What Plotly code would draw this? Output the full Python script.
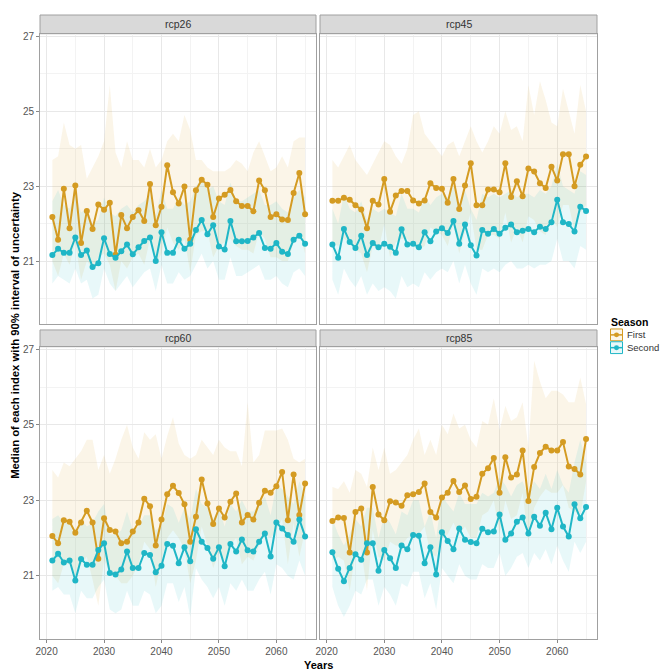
import plotly.graph_objects as go

# ---------------- data ----------------
years = list(range(2021, 2066))
scenarios = ["rcp26", "rcp45", "rcp60", "rcp85"]
seasons = ["First", "Second"]
x_tick_vals = [2020, 2030, 2040, 2050, 2060]
y_tick_vals = [21, 23, 25, 27]

rcp26_first = [22.18, 21.57, 22.93, 21.88, 23.02, 21.48, 22.34, 21.86, 22.51, 22.37, 22.56, 21.17, 22.23, 21.88, 22.18, 22.36, 22.07, 23.06, 21.96, 22.45, 23.56, 22.84, 22.54, 22.99, 21.57, 22.89, 23.17, 23.04, 22.18, 22.67, 22.77, 22.90, 22.60, 22.47, 22.47, 22.33, 23.15, 22.89, 22.18, 22.25, 22.11, 22.10, 22.82, 23.35, 22.25]
rcp26_first_lo = [21.0, 20.6, 21.2, 20.9, 21.5, 20.5, 21.0, 20.8, 21.1, 21.2, 20.9, 20.2, 21.0, 20.8, 21.1, 21.2, 20.9, 21.6, 20.9, 21.2, 21.9, 21.5, 21.3, 21.6, 20.7, 21.7, 21.8, 21.8, 21.1, 21.4, 21.5, 21.6, 21.4, 21.3, 21.3, 21.2, 21.8, 21.6, 21.1, 21.1, 21.0, 21.0, 21.5, 21.8, 21.2]
rcp26_first_hi = [23.7, 23.8, 24.7, 24.1, 24.0, 24.1, 23.2, 23.5, 23.8, 24.2, 25.7, 23.9, 23.5, 24.2, 23.7, 23.7, 23.5, 24.0, 23.5, 23.7, 24.2, 24.4, 24.2, 24.9, 24.5, 23.7, 23.7, 23.5, 23.4, 23.4, 23.4, 23.5, 23.7, 23.6, 23.4, 23.9, 24.2, 23.8, 23.4, 23.5, 23.8, 23.5, 24.2, 24.3, 24.3]
rcp26_second = [21.16, 21.33, 21.22, 21.22, 21.63, 21.16, 21.28, 20.84, 20.94, 21.61, 21.19, 21.09, 21.26, 21.44, 21.18, 21.37, 21.54, 21.63, 21.00, 21.77, 21.22, 21.22, 21.57, 21.33, 21.46, 21.83, 22.10, 21.72, 21.96, 21.39, 21.31, 22.07, 21.53, 21.53, 21.54, 21.63, 21.75, 21.35, 21.33, 21.48, 21.25, 21.19, 21.57, 21.68, 21.46]
rcp26_second_lo = [20.4, 20.6, 20.5, 20.4, 20.8, 20.4, 20.5, 20.0, 20.1, 20.8, 20.4, 20.2, 20.4, 20.6, 20.3, 20.5, 20.7, 20.8, 20.2, 20.9, 20.4, 20.4, 20.7, 20.5, 20.6, 20.9, 21.2, 20.8, 21.0, 20.5, 20.5, 21.1, 20.6, 20.6, 20.7, 20.8, 20.9, 20.5, 20.5, 20.6, 20.4, 20.3, 20.7, 20.8, 20.6]
rcp26_second_hi = [22.6, 22.9, 22.5, 22.4, 22.8, 22.3, 22.4, 22.0, 22.1, 22.7, 22.3, 22.2, 22.4, 22.5, 22.3, 22.5, 22.6, 22.8, 22.2, 22.9, 22.4, 22.4, 22.7, 22.5, 22.6, 23.0, 23.2, 22.9, 23.0, 22.6, 22.5, 23.1, 22.6, 22.6, 22.7, 22.8, 22.9, 22.5, 22.5, 22.6, 22.4, 22.3, 22.7, 22.9, 22.7]

rcp45_first = [22.61, 22.61, 22.69, 22.64, 22.49, 22.38, 21.88, 22.61, 22.51, 23.19, 22.32, 22.75, 22.87, 22.87, 22.62, 22.54, 22.62, 23.08, 22.95, 22.93, 22.56, 23.19, 22.39, 23.02, 23.61, 22.49, 22.49, 22.91, 22.91, 22.84, 23.61, 22.71, 23.13, 22.73, 23.47, 23.39, 23.08, 22.95, 23.52, 23.15, 23.85, 23.85, 23.00, 23.57, 23.79]
rcp45_first_lo = [21.5, 21.4, 21.6, 21.5, 21.3, 21.2, 20.7, 21.4, 21.3, 22.0, 21.1, 21.5, 21.6, 21.6, 21.4, 21.3, 21.4, 21.9, 21.8, 21.7, 21.4, 22.0, 21.2, 21.8, 22.3, 21.3, 21.3, 21.7, 21.7, 21.6, 22.3, 21.5, 21.9, 21.5, 22.2, 22.1, 21.8, 21.7, 22.2, 21.9, 22.5, 22.5, 21.8, 22.3, 22.5]
rcp45_first_hi = [23.7, 23.5, 23.8, 24.1, 23.7, 23.5, 23.3, 23.6, 23.9, 24.2, 24.1, 23.8, 23.6, 24.0, 24.9, 25.0, 24.4, 24.2, 24.0, 23.8, 24.1, 24.2, 23.8, 24.2, 24.6, 24.2, 23.9, 24.2, 24.6, 24.4, 25.0, 24.5, 24.6, 24.2, 25.7, 24.9, 25.8, 25.3, 24.7, 24.6, 25.6, 25.0, 24.4, 25.7, 25.0]
rcp45_second = [21.44, 21.09, 21.86, 21.51, 21.35, 21.68, 21.16, 21.48, 21.37, 21.46, 21.38, 21.22, 21.85, 21.44, 21.46, 21.37, 21.77, 21.53, 21.79, 21.88, 21.75, 22.07, 21.46, 21.98, 21.42, 21.15, 21.83, 21.73, 21.86, 21.73, 21.89, 21.98, 21.77, 21.81, 21.86, 21.77, 21.92, 21.86, 22.04, 22.64, 22.04, 21.99, 21.79, 22.45, 22.34]
rcp45_second_lo = [20.5, 20.1, 20.8, 20.5, 20.3, 20.6, 20.1, 20.4, 20.2, 20.3, 20.2, 20.0, 20.6, 20.3, 20.4, 20.3, 20.7, 20.5, 20.7, 20.8, 20.7, 21.0, 20.4, 20.9, 20.4, 20.1, 20.8, 20.7, 20.8, 20.7, 20.9, 21.0, 20.8, 20.8, 20.9, 20.8, 20.9, 20.9, 21.0, 21.6, 21.0, 21.0, 20.8, 21.4, 21.3]
rcp45_second_hi = [22.4, 22.0, 22.8, 22.4, 22.3, 22.6, 22.1, 22.4, 22.3, 22.4, 22.3, 22.2, 22.8, 22.4, 22.4, 22.3, 22.7, 22.5, 22.7, 22.8, 22.7, 23.0, 22.4, 22.9, 22.4, 22.1, 22.8, 22.7, 22.8, 22.7, 22.8, 22.9, 22.7, 22.8, 22.8, 22.7, 22.9, 22.8, 23.0, 23.6, 23.0, 22.9, 22.8, 23.4, 23.3]

rcp60_first = [22.05, 21.86, 22.47, 22.43, 22.14, 22.41, 22.72, 22.41, 21.45, 22.52, 22.21, 22.17, 21.86, 21.90, 22.17, 22.41, 23.04, 22.84, 21.80, 22.49, 23.16, 23.38, 23.19, 22.89, 21.90, 22.56, 23.55, 22.91, 22.37, 22.78, 22.54, 22.96, 23.18, 22.41, 22.61, 22.49, 22.93, 23.25, 23.20, 23.37, 23.75, 22.47, 23.68, 22.61, 23.44]
rcp60_first_lo = [21.0, 20.8, 21.3, 21.3, 21.0, 21.3, 21.5, 20.9, 20.2, 21.4, 21.1, 21.0, 20.8, 20.8, 21.0, 21.3, 21.9, 21.7, 20.7, 21.4, 22.0, 22.2, 22.0, 21.7, 20.8, 21.4, 22.3, 21.8, 21.2, 21.6, 21.4, 21.8, 22.0, 21.3, 21.5, 21.4, 21.8, 22.1, 22.0, 22.2, 22.5, 21.3, 22.4, 21.5, 22.2]
rcp60_first_hi = [23.8, 23.6, 24.0, 23.9, 24.1, 24.3, 24.6, 24.6, 23.8, 24.2, 23.7, 24.1, 24.6, 25.0, 24.4, 24.1, 24.8, 24.6, 24.75, 24.1, 24.7, 25.2, 24.5, 24.2, 24.1, 24.2, 24.6, 24.4, 24.2, 24.6, 24.4, 24.3, 24.3, 23.9, 25.6, 24.0, 24.2, 24.85, 24.85, 24.85, 24.9, 24.6, 24.1, 24.0, 24.1]
rcp60_second = [21.40, 21.58, 21.35, 21.40, 20.87, 21.44, 21.29, 21.29, 21.68, 21.86, 21.07, 21.03, 21.16, 21.64, 21.20, 21.20, 21.60, 21.55, 21.09, 21.26, 21.84, 21.79, 21.33, 21.75, 21.38, 22.23, 21.90, 21.73, 21.45, 21.75, 21.25, 21.84, 21.64, 21.96, 21.67, 21.64, 21.90, 22.12, 21.51, 22.41, 22.25, 22.08, 21.90, 22.49, 22.04]
rcp60_second_lo = [20.6, 20.7, 20.5, 20.5, 20.0, 20.6, 20.4, 20.4, 20.7, 20.9, 20.1, 20.0, 20.1, 20.6, 20.2, 20.2, 20.6, 20.5, 20.0, 20.2, 20.8, 20.8, 20.3, 20.7, 19.9, 21.2, 20.9, 20.7, 20.4, 20.7, 20.2, 20.8, 20.6, 20.9, 20.6, 20.6, 20.9, 21.1, 20.5, 21.3, 21.2, 21.0, 20.9, 21.4, 21.0]
rcp60_second_hi = [22.5, 22.6, 22.4, 22.4, 22.0, 22.5, 22.3, 22.4, 22.7, 22.9, 22.1, 22.1, 22.2, 22.7, 22.2, 22.3, 22.6, 22.6, 22.2, 22.3, 22.9, 22.8, 22.4, 22.8, 22.5, 23.3, 22.9, 22.8, 22.5, 22.8, 22.3, 22.9, 22.7, 23.0, 22.7, 22.7, 22.9, 23.1, 22.6, 23.4, 23.3, 23.1, 22.9, 23.5, 23.1]

rcp85_first = [22.45, 22.54, 22.53, 21.61, 22.69, 22.78, 21.61, 23.35, 22.62, 22.47, 22.97, 22.94, 22.85, 23.13, 23.16, 23.22, 23.44, 22.69, 22.54, 23.07, 23.20, 23.51, 23.22, 23.39, 23.03, 23.09, 23.70, 23.85, 24.12, 23.20, 24.14, 23.60, 23.68, 24.32, 22.98, 23.88, 24.25, 24.42, 24.32, 24.32, 24.54, 23.89, 23.83, 23.68, 24.62]
rcp85_first_lo = [21.4, 21.5, 21.4, 20.6, 21.6, 21.7, 20.6, 22.2, 21.5, 21.4, 21.9, 21.8, 21.8, 22.0, 22.1, 22.1, 22.3, 21.6, 21.5, 22.0, 22.1, 22.4, 22.1, 22.3, 22.0, 22.0, 22.6, 22.7, 23.0, 22.1, 23.0, 22.5, 22.6, 23.2, 21.9, 22.8, 23.1, 23.3, 23.2, 23.2, 23.4, 22.8, 22.7, 22.6, 23.5]
rcp85_first_hi = [23.35, 23.3, 23.5, 23.2, 23.8, 23.7, 23.35, 24.4, 23.8, 24.4, 23.7, 23.8, 24.0, 24.2, 24.6, 24.9, 24.2, 24.6, 24.2, 25.0, 24.75, 25.3, 24.9, 25.0, 24.6, 24.4, 25.1, 25.0, 25.7, 24.85, 25.5, 25.1, 25.2, 25.6, 24.4, 26.7, 26.15, 25.7, 25.9, 25.9, 25.8, 25.6, 25.6, 26.25, 25.55]
rcp85_second = [21.62, 21.18, 20.85, 21.20, 21.57, 21.42, 21.86, 21.86, 21.13, 21.68, 21.46, 21.20, 21.80, 21.70, 22.08, 22.06, 21.33, 21.75, 21.03, 22.15, 21.92, 21.70, 22.25, 21.95, 21.89, 21.86, 22.24, 22.15, 22.17, 22.62, 21.95, 22.12, 22.43, 22.54, 22.12, 22.56, 22.32, 22.67, 22.23, 22.80, 22.30, 22.04, 22.89, 22.52, 22.82]
rcp85_second_lo = [20.7, 20.2, 19.9, 20.2, 20.6, 20.5, 20.9, 20.9, 20.2, 20.7, 20.5, 20.2, 20.8, 20.7, 21.1, 21.1, 20.4, 20.8, 20.1, 21.2, 21.0, 20.8, 21.3, 21.0, 20.9, 20.9, 21.3, 21.2, 21.2, 21.6, 21.0, 21.2, 21.5, 21.6, 21.2, 21.6, 21.4, 21.7, 21.3, 21.8, 21.4, 21.1, 21.9, 21.6, 21.9]
rcp85_second_hi = [22.5, 22.1, 21.8, 22.1, 22.5, 22.3, 22.8, 22.8, 22.0, 22.6, 22.4, 22.1, 22.7, 22.6, 23.0, 23.0, 22.3, 22.7, 22.0, 23.1, 22.9, 22.7, 23.2, 22.9, 22.9, 22.9, 23.2, 23.1, 23.2, 23.6, 23.4, 23.1, 23.4, 23.5, 23.1, 23.5, 23.3, 23.7, 23.3, 23.8, 23.4, 23.2, 24.0, 24.6, 24.0]

panel_data = {
    "rcp26": {"First": (rcp26_first, rcp26_first_lo, rcp26_first_hi),
              "Second": (rcp26_second, rcp26_second_lo, rcp26_second_hi)},
    "rcp45": {"First": (rcp45_first, rcp45_first_lo, rcp45_first_hi),
              "Second": (rcp45_second, rcp45_second_lo, rcp45_second_hi)},
    "rcp60": {"First": (rcp60_first, rcp60_first_lo, rcp60_first_hi),
              "Second": (rcp60_second, rcp60_second_lo, rcp60_second_hi)},
    "rcp85": {"First": (rcp85_first, rcp85_first_lo, rcp85_first_hi),
              "Second": (rcp85_second, rcp85_second_lo, rcp85_second_hi)},
}

# ---------------- style ----------------
line_col = {"First": "#D49B22", "Second": "#1FB6C6"}
fill_col = {"First": "rgba(212,155,34,0.10)", "Second": "rgba(31,182,198,0.10)"}
FONT = "Liberation Sans, Arial, Helvetica, sans-serif"
W, H = 661, 669
L, R, T, B = 40, 597, 13, 647
PW, PH = R - L, B - T


def px_x(p):
    return (p - L) / PW


def px_y(p):
    return (B - p) / PH


x_dom = [[px_x(40), px_x(316)], [px_x(320), px_x(597)]]
y_dom = [[px_y(327), px_y(32)], [px_y(647), px_y(350)]]
strip_y = [[px_y(32), px_y(13)], [px_y(350), px_y(333)]]

fig = go.Figure()
layout = {}
shapes = []
annotations = []

for i, sc in enumerate(scenarios):
    r, c = divmod(i, 2)
    n = i + 1
    xa = "x" if n == 1 else f"x{n}"
    ya = "y" if n == 1 else f"y{n}"
    # ribbons
    for s in seasons:
        med, lo, hi = panel_data[sc][s]
        fig.add_trace(go.Scatter(x=years, y=lo, xaxis=xa, yaxis=ya, mode="lines",
                                 line=dict(width=0, color=fill_col[s]), showlegend=False,
                                 hoverinfo="skip"))
        fig.add_trace(go.Scatter(x=years, y=hi, xaxis=xa, yaxis=ya, mode="lines",
                                 line=dict(width=0, color=fill_col[s]), fill="tonexty",
                                 fillcolor=fill_col[s], showlegend=False, hoverinfo="skip"))
    for s in seasons:
        med, lo, hi = panel_data[sc][s]
        fig.add_trace(go.Scatter(x=years, y=med, xaxis=xa, yaxis=ya, mode="lines+markers",
                                 line=dict(width=2, color=line_col[s]),
                                 marker=dict(size=6, color=line_col[s]),
                                 name=s, showlegend=False))
    xkey = "xaxis" if n == 1 else f"xaxis{n}"
    ykey = "yaxis" if n == 1 else f"yaxis{n}"
    layout[xkey] = dict(
        domain=x_dom[c], anchor=ya, range=[2018.85, 2066.9],
        tickvals=x_tick_vals, showticklabels=(r == 1),
        ticks="outside" if r == 1 else "", ticklen=3, tickcolor="#888888",
        tickfont=dict(family=FONT, size=10, color="#555555"),
        showgrid=True, gridcolor="#E8E8E8", gridwidth=1,
        minor=dict(dtick=5, tick0=2020, showgrid=True, gridcolor="#F3F3F3", gridwidth=1),
        showline=True, mirror=True, linecolor="#A0A0A0", linewidth=1, zeroline=False,
    )
    layout[ykey] = dict(
        domain=y_dom[r], anchor=xa, range=[19.32, 27.07],
        tickvals=y_tick_vals, showticklabels=(c == 0),
        ticks="outside" if c == 0 else "", ticklen=3, tickcolor="#888888",
        tickfont=dict(family=FONT, size=10, color="#555555"),
        showgrid=True, gridcolor="#E8E8E8", gridwidth=1,
        minor=dict(dtick=2, tick0=20, showgrid=True, gridcolor="#F3F3F3", gridwidth=1),
        showline=True, mirror=True, linecolor="#A0A0A0", linewidth=1, zeroline=False,
    )
    # strip
    shapes.append(dict(type="rect", xref="paper", yref="paper",
                       x0=x_dom[c][0], x1=x_dom[c][1], y0=strip_y[r][0], y1=strip_y[r][1],
                       fillcolor="#D9D9D9", line=dict(color="#A0A0A0", width=1), layer="below"))
    annotations.append(dict(text=sc, xref="paper", yref="paper",
                            x=(x_dom[c][0] + x_dom[c][1]) / 2,
                            y=(strip_y[r][0] + strip_y[r][1]) / 2,
                            showarrow=False, xanchor="center", yanchor="middle",
                            font=dict(family=FONT, size=10.5, color="#333333")))

# axis titles
annotations.append(dict(text="<b>Median of each index with 90% interval of uncertainty</b>",
                        xref="paper", yref="paper", x=px_x(15), y=px_y(338), textangle=-90,
                        showarrow=False, xanchor="center", yanchor="middle",
                        font=dict(family=FONT, size=11.3, color="#000000")))
annotations.append(dict(text="<b>Years</b>", xref="paper", yref="paper",
                        x=px_x(318), y=px_y(666), showarrow=False,
                        xanchor="center", yanchor="top", borderpad=0,
                        font=dict(family=FONT, size=11, color="#000000")))

# legend (drawn manually to match ggplot key layout)
annotations.append(dict(text="<b>Season</b>", xref="paper", yref="paper",
                        x=px_x(609), y=px_y(325), showarrow=False,
                        xanchor="left", yanchor="middle",
                        font=dict(family=FONT, size=10.5, color="#000000")))
for s, cy in zip(seasons, [338, 351]):
    shapes.append(dict(type="rect", xref="paper", yref="paper",
                       x0=px_x(610.5), x1=px_x(622.5), y0=px_y(cy + 6), y1=px_y(cy - 6),
                       fillcolor=fill_col[s], line=dict(color=line_col[s], width=1)))
    shapes.append(dict(type="line", xref="paper", yref="paper",
                       x0=px_x(611), x1=px_x(622), y0=px_y(cy), y1=px_y(cy),
                       line=dict(color=line_col[s], width=1.5)))
    shapes.append(dict(type="circle", xref="paper", yref="paper",
                       x0=px_x(614), x1=px_x(619), y0=px_y(cy + 2.5), y1=px_y(cy - 2.5),
                       fillcolor=line_col[s], line=dict(color=line_col[s], width=0)))
    annotations.append(dict(text=s, xref="paper", yref="paper",
                            x=px_x(625), y=px_y(cy), showarrow=False,
                            xanchor="left", yanchor="middle",
                            font=dict(family=FONT, size=9.5, color="#333333")))

fig.update_layout(
    width=W, height=H,
    margin=dict(l=L, r=W - R, t=T, b=H - B, pad=0),
    paper_bgcolor="white", plot_bgcolor="white",
    showlegend=False, shapes=shapes, annotations=annotations,
    **layout,
)

fig.write_html("out.html")
